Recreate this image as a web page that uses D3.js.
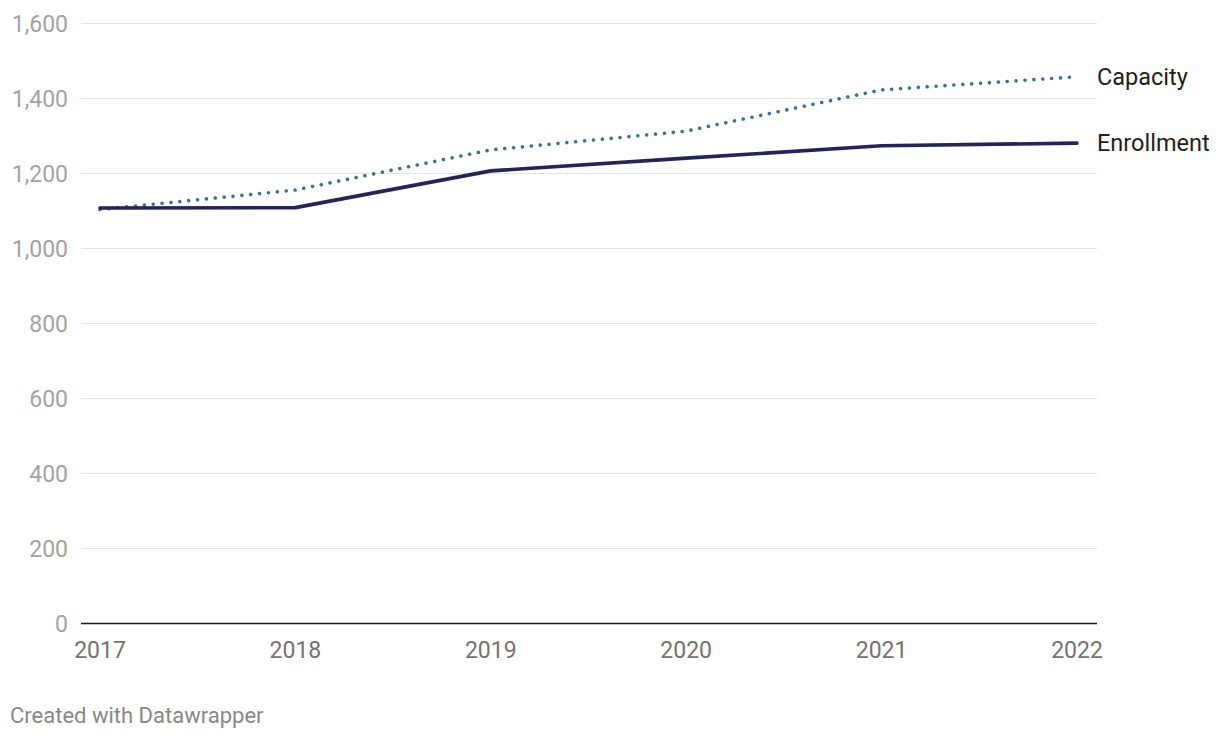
<!DOCTYPE html>
<html><head><meta charset="utf-8">
<script src="https://cdn.jsdelivr.net/npm/d3@7"></script>
<style>
body{margin:0;background:#fff;font-family:Roboto,"Noto Sans",sans-serif;}
svg{display:block;}
</style></head>
<body>
<svg id="c" width="1220" height="740"></svg>
<script>
const years = [2017, 2018, 2019, 2020, 2021, 2022];
const enrollment = [1108, 1109, 1207, 1241, 1274, 1281];
const capacity = [1104, 1156, 1263, 1313, 1423, 1458];
const yTicks = [0, 200, 400, 600, 800, 1000, 1200, 1400, 1600];
const seriesNames = ["Capacity", "Enrollment"];

const svg = d3.select("#c");
const x = d3.scaleLinear().domain([2017, 2022]).range([100, 1077]);
const y = d3.scaleLinear().domain([0, 1600]).range([623.5, 23.5]);
const gridL = 81, gridR = 1097;

svg.append("g").selectAll("line").data(yTicks.filter(d => d > 0)).join("line")
  .attr("x1", gridL).attr("x2", gridR)
  .attr("y1", d => y(d)).attr("y2", d => y(d))
  .attr("stroke", "#e3e3e3").attr("stroke-width", 1);

svg.append("g").selectAll("text").data(yTicks).join("text")
  .attr("x", 68).attr("y", d => y(d) + 8)
  .attr("text-anchor", "end")
  .attr("font-size", 23).attr("fill", "#a3a3a3")
  .text(d => d3.format(",")(d));

svg.append("line").attr("x1", gridL).attr("x2", gridR)
  .attr("y1", y(0)).attr("y2", y(0))
  .attr("stroke", "#1a1a1a").attr("stroke-width", 1.5);

svg.append("g").selectAll("text").data(years).join("text")
  .attr("x", d => x(d)).attr("y", 658)
  .attr("text-anchor", "middle")
  .attr("font-size", 23).attr("fill", "#737373")
  .text(d => d);

const line = d3.line().x((d, i) => x(years[i])).y(d => y(d));

svg.append("path").datum(capacity)
  .attr("d", line).attr("fill", "none")
  .attr("stroke", "#3a728d").attr("stroke-width", 3.6)
  .attr("stroke-linecap", "round")
  .attr("stroke-dasharray", "0.01 8.9");

svg.append("path").datum(enrollment)
  .attr("d", line).attr("fill", "none")
  .attr("stroke", "#25245a").attr("stroke-width", 3.6)
  .attr("stroke-linecap", "round").attr("stroke-linejoin", "round");

const lastVals = [capacity[capacity.length - 1], enrollment[enrollment.length - 1]];
svg.append("g").selectAll("text").data(seriesNames).join("text")
  .attr("x", 1097).attr("y", (d, i) => y(lastVals[i]) + 8)
  .attr("font-size", 23.5).attr("fill", "#1e1e1e")
  .text(d => d);

svg.append("text").attr("x", 10).attr("y", 723)
  .attr("font-size", 22).attr("fill", "#888888")
  .text("Created with Datawrapper");
</script>
</body></html>
